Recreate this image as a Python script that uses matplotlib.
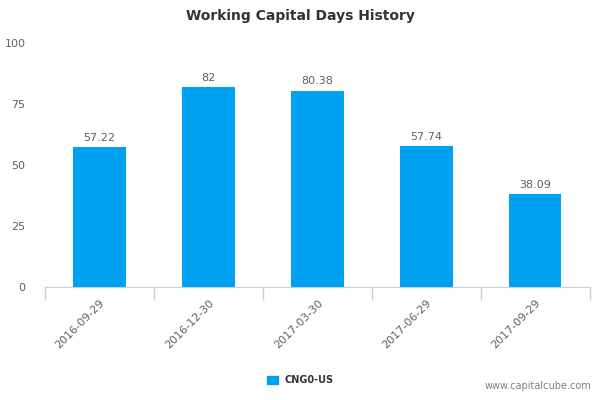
import numpy as np
import matplotlib.pyplot as plt
from matplotlib.patches import Patch

dates = ['2016-09-29', '2016-12-30', '2017-03-30', '2017-06-29', '2017-09-29']
values = [57.22, 82, 80.38, 57.74, 38.09]
labels = ['57.22', '82', '80.38', '57.74', '38.09']
yticks = [0, 25, 50, 75, 100]

bar_color = '#00a1f1'
axis_color = '#c0d0e0'
text_color = '#606060'

fig = plt.figure(figsize=(6, 4), dpi=100)
ax = fig.add_axes([0.075, 0.2825, 0.908, 0.61])

x = np.arange(len(dates))
ax.bar(x, values, width=0.48, color=bar_color, zorder=2)
for xi, v, lab in zip(x, values, labels):
    ax.text(xi, v + 1.8, lab, ha='center', va='bottom', fontsize=8, color=text_color)

ax.set_xlim(-0.5, len(dates) - 0.5)
ax.set_ylim(0, 100)
ax.set_yticks(yticks)
ax.set_yticklabels([str(t) for t in yticks], fontsize=8, color=text_color)
ax.tick_params(axis='y', length=0, pad=14)

ax.set_xticks(x)
ax.set_xticklabels(dates, rotation=45, ha='right', rotation_mode='anchor',
                   fontsize=8, color=text_color)
ax.set_xticks(np.arange(len(dates) + 1) - 0.5, minor=True)
ax.tick_params(axis='x', which='major', length=0, pad=8)
ax.tick_params(axis='x', which='minor', length=9, color=axis_color, width=1)

for s in ['top', 'right', 'left']:
    ax.spines[s].set_visible(False)
ax.spines['bottom'].set_color(axis_color)

fig.text(0.5, 0.96, 'Working Capital Days History', ha='center', va='center',
         fontsize=10, fontweight='bold', color='#333333')

fig.legend(handles=[Patch(color=bar_color, label='CNG0-US')], loc='center',
           bbox_to_anchor=(0.5, 0.05), frameon=False, handlelength=1.2,
           handleheight=0.9, handletextpad=0.6,
           prop={'size': 7, 'weight': 'bold'}, labelcolor='#333333')

fig.text(0.985, 0.022, 'www.capitalcube.com', ha='right', va='bottom',
         fontsize=7, color='#808080')

fig.savefig('out.png', dpi=100)
